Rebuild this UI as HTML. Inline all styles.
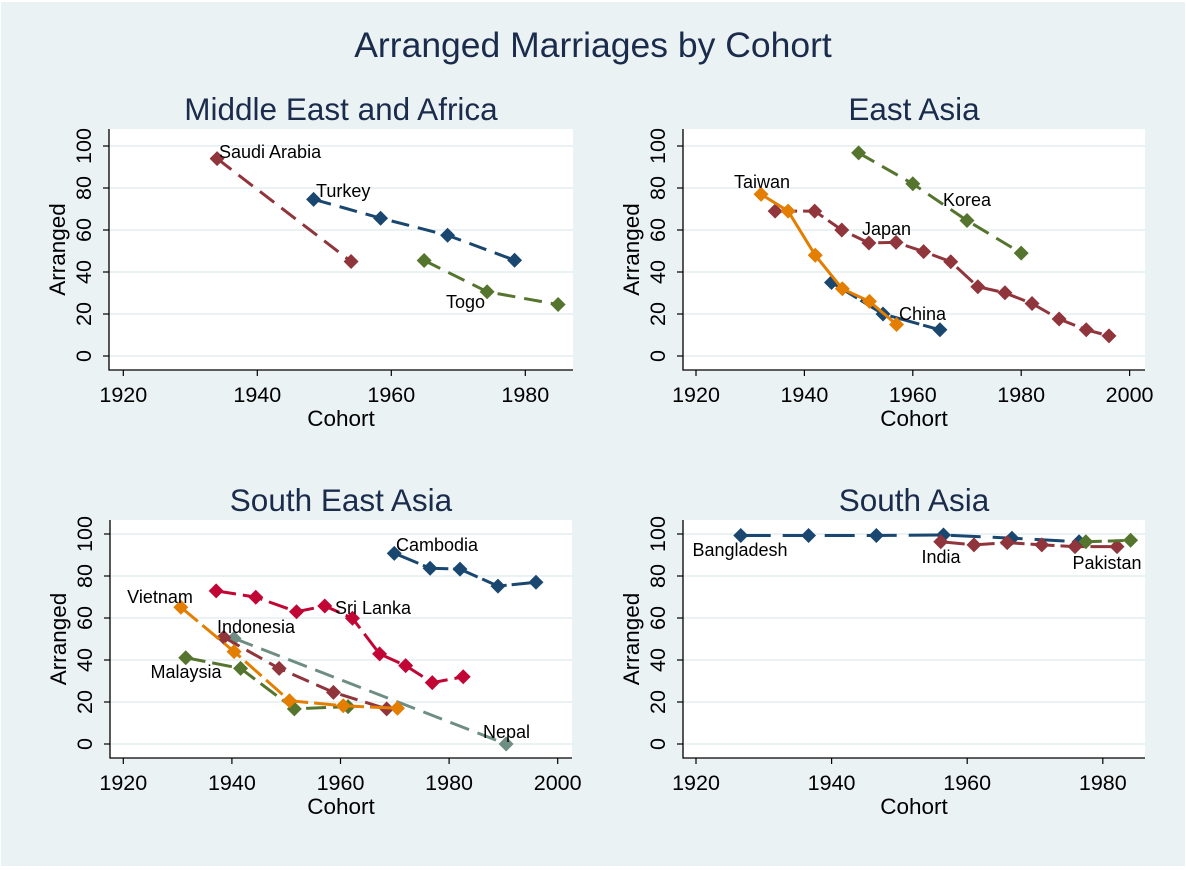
<!DOCTYPE html>
<html><head><meta charset="utf-8">
<style>
html,body{margin:0;padding:0;background:#fff;}
svg{display:block;font-family:"Liberation Sans",Arial,sans-serif;}
</style></head>
<body>
<svg id="chart" width="1186" height="870" viewBox="0 0 1186 870" xmlns="http://www.w3.org/2000/svg">
<rect x="1" y="2" width="1184" height="864" fill="#eaf2f3"/>
<text x="593" y="57" text-anchor="middle" font-size="35.5" fill="#1a2b4c">Arranged Marriages by Cohort</text>
<g id="panels"></g>
</svg>
<script>
// ---------- data ----------
// Middle East and Africa
const saudiYears = [1934, 1954];
const saudiVals = [94, 45];
const turkeyYears = [1948.4, 1958.4, 1968.4, 1978.4];
const turkeyVals = [74.6, 65.6, 57.5, 45.6];
const togoYears = [1964.9, 1974.3, 1984.9];
const togoVals = [45.5, 30.6, 24.5];
// East Asia
const koreaYears = [1950, 1960, 1970, 1980];
const koreaVals = [96.7, 82, 64.5, 49];
const taiwanYears = [1932, 1937, 1942, 1947, 1952, 1957];
const taiwanVals = [77, 69, 48, 32, 26, 15];
const chinaYears = [1945, 1954.5, 1965];
const chinaVals = [35, 20, 12.5];
const japanYears = [1934.6, 1941.9, 1946.9, 1951.9, 1956.9, 1962, 1967, 1972, 1977, 1982, 1987, 1992, 1996.2];
const japanVals = [69, 69, 60, 53.8, 54.1, 49.7, 44.9, 33, 30.1, 25, 17.6, 12.5, 9.6];
// South East Asia
const cambodiaYears = [1969.9, 1976.5, 1982, 1989, 1996];
const cambodiaVals = [90.8, 83.7, 83.3, 75.2, 77];
const sriLankaYears = [1937.1, 1944.4, 1951.9, 1957.1, 1962.2, 1967.2, 1972, 1976.9, 1982.6];
const sriLankaVals = [72.9, 69.9, 63, 65.7, 59.9, 42.9, 37.3, 29.2, 32];
const vietnamYears = [1930.6, 1940.4, 1950.6, 1960.5, 1970.5];
const vietnamVals = [65.1, 44, 20.6, 18.2, 17];
const indonesiaYears = [1938.5, 1948.7, 1958.7, 1968.5];
const indonesiaVals = [50.8, 36, 24.6, 16.7];
const nepalYears = [1940.4, 1990.5];
const nepalVals = [50.3, 0];
const malaysiaYears = [1931.5, 1941.6, 1951.5, 1961.4];
const malaysiaVals = [41.1, 36, 16.7, 17.8];
// South Asia
const bangladeshYears = [1926.6, 1936.6, 1946.6, 1956.5, 1966.6, 1976.5];
const bangladeshVals = [99.3, 99.3, 99.3, 99.5, 98, 96.3];
const indiaYears = [1956.1, 1961, 1965.9, 1971, 1975.9, 1982.1];
const indiaVals = [96.3, 94.8, 95.9, 94.8, 94, 94];
const pakistanYears = [1977.5, 1984.1];
const pakistanVals = [96.3, 97];
// ticks
const yTicks = [0, 20, 40, 60, 80, 100];
const xTicksShort = [1920, 1940, 1960, 1980];
const xTicksLong = [1920, 1940, 1960, 1980, 2000];

const C = {navy:"#1a476f", maroon:"#90353b", green:"#55752f", orange:"#e37e00", teal:"#6e8e84", cran:"#c10534"};
const NS = "http://www.w3.org/2000/svg";
const root = document.getElementById('panels');

function mk(tag, attrs, parent){
  const e = document.createElementNS(NS, tag);
  for (const k in attrs) e.setAttribute(k, attrs[k]);
  parent.appendChild(e);
  return e;
}

const panels = [
  {name:"middle-east-africa", title:"Middle East and Africa", L:109, R:573, T:129, B:370, x0:123.3, xs:6.7, y0:356, xticks:xTicksShort,
   series:[
     {n:"saudi-arabia", xs:saudiYears, ys:saudiVals, c:C.maroon, d:"18 9", lab:"Saudi Arabia", lx:219, ly:158, a:"start"},
     {n:"turkey", xs:turkeyYears, ys:turkeyVals, c:C.navy, d:"18 9", lab:"Turkey", lx:316, ly:197, a:"start"},
     {n:"togo", xs:togoYears, ys:togoVals, c:C.green, d:"18 9", lab:"Togo", lx:446, ly:308, a:"start"}]},
  {name:"east-asia", title:"East Asia", L:683, R:1145, T:129, B:370, x0:696, xs:5.42, y0:356, xticks:xTicksLong,
   series:[
     {n:"korea", xs:koreaYears, ys:koreaVals, c:C.green, d:"18 9", lab:"Korea", lx:943, ly:206, a:"start"},
     {n:"japan", xs:japanYears, ys:japanVals, c:C.maroon, d:"22 6", lab:"Japan", lx:862, ly:235, a:"start"},
     {n:"china", xs:chinaYears, ys:chinaVals, c:C.navy, d:"30 4", lab:"China", lx:899, ly:320, a:"start"},
     {n:"taiwan", xs:taiwanYears, ys:taiwanVals, c:C.orange, d:"", lab:"Taiwan", lx:762, ly:188, a:"middle"}]},
  {name:"south-east-asia", title:"South East Asia", L:110, R:572, T:520, B:758, x0:123.3, xs:5.43, y0:744, xticks:xTicksLong,
   series:[
     {n:"cambodia", xs:cambodiaYears, ys:cambodiaVals, c:C.navy, d:"26 5", lab:"Cambodia", lx:396, ly:551, a:"start"},
     {n:"nepal", xs:nepalYears, ys:nepalVals, c:C.teal, d:"20 9", lab:"Nepal", lx:483, ly:738, a:"start"},
     {n:"sri-lanka", xs:sriLankaYears, ys:sriLankaVals, c:C.cran, d:"20 7", lab:"Sri Lanka", lx:335, ly:614, a:"start"},
     {n:"indonesia", xs:indonesiaYears, ys:indonesiaVals, c:C.maroon, d:"18 8", lab:"Indonesia", lx:217, ly:633, a:"start"},
     {n:"malaysia", xs:malaysiaYears, ys:malaysiaVals, c:C.green, d:"20 7", lab:"Malaysia", lx:186, ly:678, a:"middle"},
     {n:"vietnam", xs:vietnamYears, ys:vietnamVals, c:C.orange, d:"22 6", lab:"Vietnam", lx:160, ly:603, a:"middle"}]},
  {name:"south-asia", title:"South Asia", L:683, R:1145, T:520, B:758, x0:696, xs:6.78, y0:744, xticks:xTicksShort,
   series:[
     {n:"bangladesh", xs:bangladeshYears, ys:bangladeshVals, c:C.navy, d:"30 12", lab:"Bangladesh", lx:740, ly:556, a:"middle"},
     {n:"india", xs:indiaYears, ys:indiaVals, c:C.maroon, d:"24 6", lab:"India", lx:941, ly:563, a:"middle"},
     {n:"pakistan", xs:pakistanYears, ys:pakistanVals, c:C.green, d:"16 6", lab:"Pakistan", lx:1107, ly:569, a:"middle"}]}
];

panels.forEach(p => {
  const X = v => p.x0 + (v - 1920) * p.xs;
  const Y = v => p.y0 - v * 2.1;
  const g = mk('g', {}, root);
  
  
  const t = mk('text', {x:(p.L+p.R)/2, y:p.T-9, 'text-anchor':'middle', 'font-size':31.5, fill:'#1a2b4c'}, g);
  t.textContent = p.title;
  
  
  const bg = mk('rect', {x:p.L, y:p.T, width:p.R-p.L, height:p.B-p.T, fill:'#fff'}, g);
  
  
  yTicks.forEach(v => {
    const gl = mk('line', {x1:p.L, x2:p.R, y1:Y(v), y2:Y(v), stroke:'#eaf2f3', 'stroke-width':2}, g);
    
    
    mk('line', {x1:p.L-6, x2:p.L, y1:Y(v), y2:Y(v), stroke:'#000', 'stroke-width':1.2}, g);
    const tl = mk('text', {x:0, y:0, transform:`translate(${p.L-18},${Y(v)}) rotate(-90)`, 'text-anchor':'middle', 'font-size':21.5, fill:'#000'}, g);
    tl.textContent = v;
    
    
  });
  p.xticks.forEach(v => {
    mk('line', {x1:X(v), x2:X(v), y1:p.B, y2:p.B+6, stroke:'#000', 'stroke-width':1.2}, g);
    const tl = mk('text', {x:X(v), y:p.B+32, 'text-anchor':'middle', 'font-size':21.5, fill:'#000'}, g);
    tl.textContent = v;
    
    
  });
  mk('path', {d:`M${p.L},${p.T} V${p.B} H${p.R}`, fill:'none', stroke:'#000', 'stroke-width':1.3}, g);
  const yt = mk('text', {x:0, y:0, transform:`translate(${p.L-44},${(p.T+p.B)/2}) rotate(-90)`, 'text-anchor':'middle', 'font-size':22.5, fill:'#000'}, g);
  yt.textContent = 'Arranged';
  
  
  const xt = mk('text', {x:(p.L+p.R)/2, y:p.B+56, 'text-anchor':'middle', 'font-size':22.5, fill:'#000'}, g);
  xt.textContent = 'Cohort';
  
  
  p.series.forEach(s => {
    const sg = mk('g', {}, g);
    
    
    const pts = s.xs.map((x, i) => X(x).toFixed(1) + ',' + Y(s.ys[i]).toFixed(1)).join(' ');
    const attrs = {points:pts, fill:'none', stroke:s.c, 'stroke-width':3};
    if (s.d) attrs['stroke-dasharray'] = s.d;
    const ln = mk('polyline', attrs, sg);
    
    
    s.xs.forEach((x, i) => {
      const cx = X(x), cy = Y(s.ys[i]);
      const m = mk('path', {d:`M${cx},${cy-7.5} L${cx+7.5},${cy} L${cx},${cy+7.5} L${cx-7.5},${cy} Z`, fill:s.c}, sg);
      
      
    });
    const lb = mk('text', {x:s.lx, y:s.ly, 'text-anchor':s.a, 'font-size':18, fill:'#000'}, sg);
    lb.textContent = s.lab;
    
    
  });
});
</script>
</body></html>
